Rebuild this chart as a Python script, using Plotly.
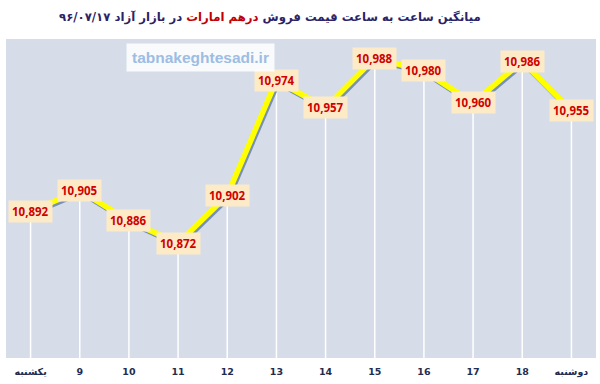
import plotly.graph_objects as go

categories = ["یکشنبه", "9", "10", "11", "12", "13", "14", "15", "16", "17", "18", "دوشنبه"]
prices = [10892, 10905, 10886, 10872, 10902, 10974, 10957, 10988, 10980, 10960, 10986, 10955]

title_part1 = "میانگین ساعت به ساعت قیمت فروش "
title_part2 = "درهم امارات"
title_part3 = " در بازار آزاد ۹۶/۰۷/۱۷"
watermark = "tabnakeghtesadi.ir"

W, H = 600, 384
ml, mr, mt, mb = 6, 4, 39, 26
y_min, y_max = 10800, 11000

xs = list(range(len(categories)))
n = len(categories)
pw = W - ml - mr
ph = H - mt - mb


def px_to_paper(xp, yp):
    return (xp - ml) / pw, (H - mb - yp) / ph


fig = go.Figure()

# drop lines (base axes)
dx, dy = [], []
for i, v in zip(xs, prices):
    dx += [i, i, None]
    dy += [y_min, v, None]
fig.add_trace(go.Scatter(x=dx, y=dy, mode="lines", line=dict(color="white", width=1.5),
                         hoverinfo="skip", showlegend=False))

# shadow line on offset axes
x_shift = 1.5 * n / pw
y_shift = 2.0 * (y_max - y_min) / ph
fig.add_trace(go.Scatter(x=xs, y=prices, mode="lines", xaxis="x2", yaxis="y2",
                         line=dict(color="#7891b3", width=5.5), hoverinfo="skip", showlegend=False))

# main yellow line on an unshifted overlay (drawn above the shadow)
fig.add_trace(go.Scatter(x=xs, y=prices, mode="lines", xaxis="x3", yaxis="y3",
                         line=dict(color="#ffff00", width=5.5), showlegend=False))

for i, v in zip(xs, prices):
    fig.add_annotation(x=i, y=v, text=f"<b>{v:,}</b>", showarrow=False,
                       font=dict(family="Open Sans, Arial", size=11.5, color="#d00000"),
                       bgcolor="#fdebc8", borderpad=3)

tx, ty = px_to_paper(270, 18)
fig.add_annotation(xref="paper", yref="paper", x=tx, y=ty,
                   text=(f"<b><span style='color:#2b2366'>{title_part1}</span>"
                         f"<span style='color:#c00000'>{title_part2}</span>"
                         f"<span style='color:#2b2366'>{title_part3}</span></b>"),
                   showarrow=False, font=dict(family="DejaVu Sans", size=11.7, color="#2b2366"),
                   xanchor="center", yanchor="middle")

wx, wy = px_to_paper(200, 58)
fig.add_annotation(xref="paper", yref="paper", x=wx, y=wy,
                   text=f"<b>{watermark}</b>", showarrow=False,
                   font=dict(family="Liberation Sans, Arial", size=15.5, color="#9dbde3"),
                   bgcolor="rgba(255,255,255,0.85)", borderpad=5,
                   xanchor="center", yanchor="middle")

fig.update_layout(
    width=W, height=H,
    margin=dict(l=ml, r=mr, t=mt, b=mb),
    paper_bgcolor="white",
    plot_bgcolor="#d6dde8",
    xaxis=dict(tickmode="array", tickvals=xs, ticktext=[f"<b>{c}</b>" for c in categories],
               range=[-0.5, n - 0.5], showgrid=False, zeroline=False, automargin=False,
               ticks="outside", ticklen=5, tickcolor="rgba(0,0,0,0)",
               tickfont=dict(family="DejaVu Sans", size=9.5, color="#1f2d50")),
    yaxis=dict(range=[y_min, y_max], showgrid=False, zeroline=False, showticklabels=False,
               automargin=False),
    xaxis2=dict(range=[-0.5 - x_shift, n - 0.5 - x_shift], visible=False,
                overlaying="x", anchor="y2"),
    yaxis2=dict(range=[y_min + y_shift, y_max + y_shift], visible=False, overlaying="y",
                anchor="x2"),
    xaxis3=dict(range=[-0.5, n - 0.5], visible=False, overlaying="x", anchor="y3"),
    yaxis3=dict(range=[y_min, y_max], visible=False, overlaying="y", anchor="x3"),
)

fig.write_html("out.html", config={"displayModeBar": False},
               post_script="document.body.style.margin='0';")
